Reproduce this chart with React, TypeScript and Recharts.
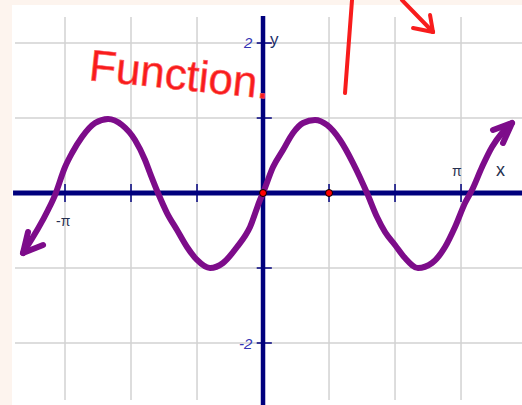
import React from "react";
import { LineChart, Line, XAxis, YAxis, ReferenceLine, ReferenceDot } from "recharts";

const PI = Math.PI;

// pen-traced curve (x in radians, y in grid units)
const curveX = [-3.808, -3.411, -3.3, -3.141, -3.03, -2.872, -2.665, -2.459, -2.237, -2.031, -1.872, -1.793, -1.666, -1.523, -1.364, -1.206, -1.047, -0.841, -0.635, -0.413, -0.206, -0.048, 0, 0.159, 0.317, 0.476, 0.635, 0.825, 1.015, 1.222, 1.428, 1.65, 1.809, 1.936, 2.094, 2.253, 2.459, 2.681, 2.888, 3.046, 3.205, 3.316, 3.475, 3.633, 3.792, 3.951];
const curveY = [-0.8, -0.227, -0.027, 0.347, 0.533, 0.747, 0.933, 0.987, 0.907, 0.707, 0.44, 0.267, 0, -0.267, -0.493, -0.72, -0.893, -1, -0.933, -0.72, -0.453, -0.093, 0, 0.347, 0.573, 0.8, 0.933, 0.973, 0.907, 0.707, 0.4, 0, -0.32, -0.52, -0.693, -0.867, -1, -0.933, -0.72, -0.453, -0.133, 0.04, 0.347, 0.613, 0.8, 0.933];

// arrow heads at both ends of the curve
const leftHeadX = [-3.728, -3.808, -3.49];
const leftHeadY = [-0.52, -0.8, -0.693];
const rightHeadX = [3.649, 3.951, 3.808];
const rightHeadY = [0.84, 0.933, 0.667];

const xTicks = [-PI, -2 * PI / 3, -PI / 3, 0, PI / 3, 2 * PI / 3, PI];
const yTicks = [-2, -1, 0, 1, 2];
const xTickMarks = [-PI, -2 * PI / 3, -PI / 3, PI / 3, 2 * PI / 3, PI];
const yTickMarks = [-2, -1, 1, 2];

// highlighted points on the x axis
const markedX = [0, PI / 3];

// red pen strokes drawn over the top of the graph
const penStrokes = [
  [[1.412, 2.573], [1.301, 1.333]],
  [[2.205, 2.573], [2.697, 2.147]],
  [[2.697, 2.147], [2.65, 2.373]],
  [[2.697, 2.147], [2.38, 2.2]],
];

const toRows = (xs: number[], ys: number[]) => xs.map((x, i) => ({ x, y: ys[i] }));
const curve = toRows(curveX, curveY);
const leftHead = toRows(leftHeadX, leftHeadY);
const rightHead = toRows(rightHeadX, rightHeadY);

const NAVY = "#00007d";
const PURPLE = "#7d0c8a";
const PEN = "#f81c1c";
const GRID = "#d2d2d2";
const FONT = "Liberation Sans, Arial, sans-serif";

const tag = (text: string, dx: number, dy: number, fill: string, size: number, extra: any = {}) =>
  (props: any) => {
    const vb = props.viewBox || { x: 0, y: 0 };
    return (
      <text x={vb.x + dx} y={vb.y + dy} fill={fill} fontSize={size} fontFamily={FONT} {...extra}>
        {text}
      </text>
    );
  };

export default function App() {
  return (
    <div style={{ position: "absolute", left: 0, top: 0, width: 522, height: 405, background: "#fdf4ee", overflow: "hidden" }}>
      <div style={{ position: "absolute", left: 12, top: 5, right: 0, bottom: 0, background: "#fff" }} />
      <div style={{ position: "absolute", left: 0, top: 0 }}>
        <LineChart width={522} height={405} margin={{ top: 17, right: 0, left: 15, bottom: 5 }}>
          <XAxis
            type="number"
            dataKey="x"
            domain={[-3.935, 4.109]}
            ticks={xTicks}
            allowDataOverflow
            axisLine={false}
            tickLine={false}
            tick={false}
            height={0}
          />
          <YAxis
            type="number"
            domain={[-2.76, 2.347]}
            ticks={yTicks}
            allowDataOverflow
            axisLine={false}
            tickLine={false}
            tick={false}
            width={0}
          />

          {/* grid */}
          {xTicks.map((t) => (
            <ReferenceLine key={"gx" + t} x={t} stroke={GRID} strokeWidth={1.5} />
          ))}
          {yTicks.map((t) => (
            <ReferenceLine key={"gy" + t} y={t} stroke={GRID} strokeWidth={1.5} />
          ))}

          {/* axes */}
          <ReferenceLine
            segment={[{ x: -3.966, y: 0 }, { x: 4.109, y: 0 }]}
            stroke={NAVY}
            strokeWidth={5}
            ifOverflow="visible"
          />
          <ReferenceLine
            segment={[{ x: 0, y: 2.36 }, { x: 0, y: -2.83 }]}
            stroke={NAVY}
            strokeWidth={4.5}
            ifOverflow="visible"
          />
          {xTickMarks.map((t) => (
            <ReferenceLine key={"xt" + t} segment={[{ x: t, y: -0.12 }, { x: t, y: 0.12 }]} stroke={NAVY} strokeWidth={1.5} />
          ))}
          {yTickMarks.map((t) => (
            <ReferenceLine key={"yt" + t} segment={[{ x: -0.1, y: t }, { x: 0.14, y: t }]} stroke={NAVY} strokeWidth={1.5} />
          ))}

          <Line data={curve} dataKey="y" type="monotone" stroke={PURPLE} strokeWidth={6} dot={false} strokeLinecap="round" strokeLinejoin="round" isAnimationActive={false} />
          <Line data={leftHead} dataKey="y" type="linear" stroke={PURPLE} strokeWidth={6} dot={false} strokeLinecap="round" strokeLinejoin="round" isAnimationActive={false} />
          <Line data={rightHead} dataKey="y" type="linear" stroke={PURPLE} strokeWidth={6} dot={false} strokeLinecap="round" strokeLinejoin="round" isAnimationActive={false} />

          {markedX.map((x) => (
            <ReferenceDot key={"m" + x} x={x} y={0} r={3.5} fill="#ff0000" stroke="#000" strokeWidth={1} />
          ))}

          {/* axis labels */}
          <ReferenceDot x={0} y={2} r={0} ifOverflow="visible" label={tag("2", -19, 5, "#3434b4", 15, { fontStyle: "italic" })} />
          <ReferenceDot x={0} y={-2} r={0} ifOverflow="visible" label={tag("-2", -24, 6, "#3434b4", 15, { fontStyle: "italic" })} />
          <ReferenceDot x={0} y={2} r={0} ifOverflow="visible" label={tag("y", 7, 2, "#22306a", 17)} />
          <ReferenceDot x={-PI} y={0} r={0} ifOverflow="visible" label={tag("-π", -9, 33, "#26304f", 14)} />
          <ReferenceDot x={PI} y={0} r={0} ifOverflow="visible" label={tag("π", -9, -17, "#26304f", 14)} />
          <ReferenceDot x={PI} y={0} r={0} ifOverflow="visible" label={tag("x", 35, -17, "#26304f", 18)} />

          {/* handwritten note */}
          <ReferenceDot
            x={-2.776}
            y={1.507}
            r={0}
            ifOverflow="visible"
            label={(props: any) => {
              const vb = props.viewBox || { x: 0, y: 0 };
              return (
                <text
                  x={vb.x}
                  y={vb.y}
                  fill={PEN}
                  stroke="#ff5a5a"
                  strokeWidth={0.6}
                  fontSize={44}
                  fontFamily={FONT}
                  transform={`rotate(6 ${vb.x} ${vb.y})`}
                >
                  Function.
                </text>
              );
            }}
          />
          {penStrokes.map((s, i) => (
            <ReferenceLine
              key={"pen" + i}
              segment={[{ x: s[0][0], y: s[0][1] }, { x: s[1][0], y: s[1][1] }]}
              stroke={PEN}
              strokeWidth={4}
              strokeLinecap="round"
              ifOverflow="visible"
            />
          ))}
        </LineChart>
      </div>
    </div>
  );
}
